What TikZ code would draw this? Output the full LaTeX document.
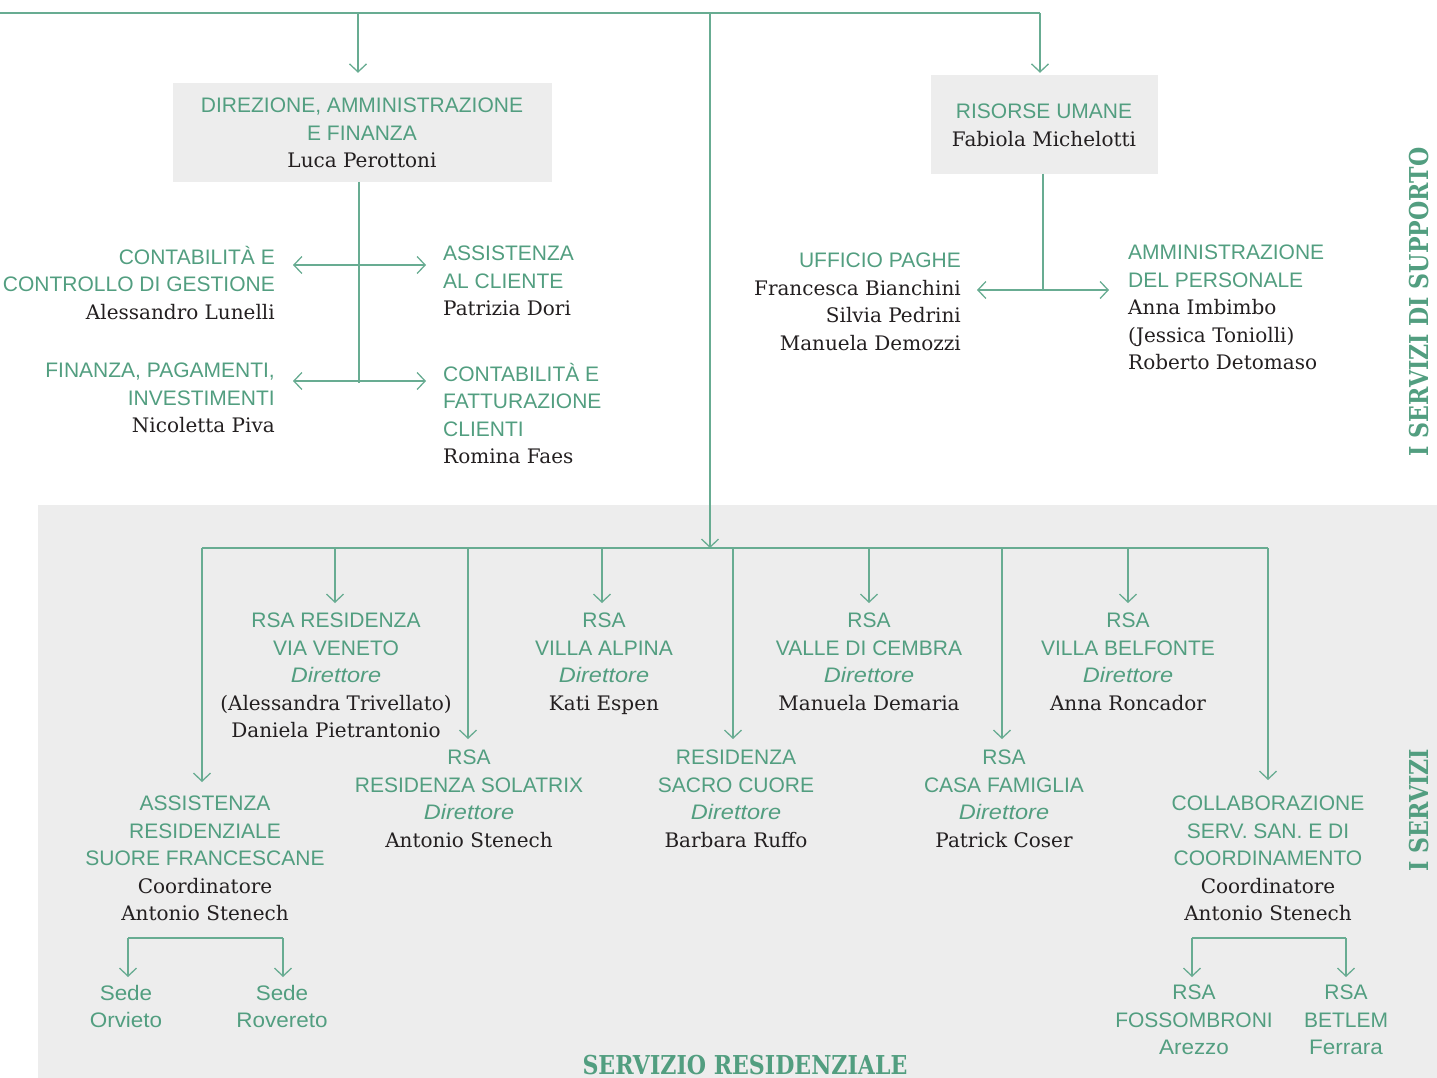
\documentclass[tikz,border=0pt]{standalone}
\usepackage{fontspec}
\setmainfont{DejaVu Serif}
\newfontfamily\gfont{Liberation Sans}
\newfontfamily\gwfont[FakeStretch=1.07]{Liberation Sans}
\newfontfamily\gifont[FakeStretch=1.12]{Liberation Sans Italic}
\newfontfamily\tfont[FakeStretch=0.85]{DejaVu Serif}
\usetikzlibrary{arrows.meta}
\definecolor{lineg}{RGB}{104,172,146}
\definecolor{textg}{RGB}{82,158,128}
\definecolor{ink}{RGB}{35,31,32}
\definecolor{bgg}{RGB}{237,237,237}
\newcommand\G[1]{{\fontsize{21}{27.5}\selectfont\gfont\color{textg}#1}}
\newcommand\GW[1]{{\fontsize{21}{27.5}\selectfont\gwfont\color{textg}#1}}
\newcommand\GI[1]{{\fontsize{21}{27.5}\selectfont\gifont\color{textg}#1}}
\newcommand\N[1]{{\fontsize{20}{27.5}\selectfont\color{ink}#1}}
\newcommand\Dir{\GI{Direttore}}
\tikzset{
  conn/.style={draw=lineg, line width=1.4pt},
  arr/.style={conn, -{Straight Barb[length=8pt,width=17pt,line width=1.3pt]}},
  darr/.style={conn, {Straight Barb[length=8pt,width=17pt,line width=1.3pt]}-{Straight Barb[length=8pt,width=17pt,line width=1.3pt]}},
  blk/.style={inner sep=0pt, align=center, anchor=north, yshift=-7pt, font=\fontsize{21}{27.5}\selectfont,
    execute at begin node={\rule{0pt}{22pt}}},
  blkr/.style={blk, align=right, anchor=north east},
  blkl/.style={blk, align=left, anchor=north west},
  gbox/.style={fill=bgg, draw=none, inner sep=0pt},
  ttl/.style={inner sep=0pt, text=textg, font=\fontsize{26}{30}\selectfont\tfont\bfseries},
}
\begin{document}
\begin{tikzpicture}[x=1pt,y=-1pt]
\useasboundingbox (0,0) rectangle (1437,1078);
% background of residential area
\fill[bgg] (38,505) rectangle (1437,1078);
% boxes
\node[gbox, minimum width=379pt, minimum height=99pt] (dirbox) at (362.5,132.5) {};
\node[gbox, minimum width=227pt, minimum height=99pt] (hrbox) at (1044.5,124.5) {};
\node[blk] (dir) at (362,91) {\G{DIREZIONE, AMMINISTRAZIONE}\\\G{E FINANZA}\\\N{Luca Perottoni}};
\node[blk] (hr) at (1044,97) {\G{RISORSE UMANE}\\\N{Fabiola Michelotti}};
% top bus
\coordinate (tl) at (0,13);
\coordinate (tdir) at (358,13);
\coordinate (tmid) at (710,13);
\coordinate (thr) at (1040,13);
\coordinate (bus) at (710,548);
\draw[conn] (tl) -- (thr);
\draw[arr, shorten >=10pt] (tdir) -- (tdir |- dirbox.north);
\draw[arr, shorten >=2pt] (thr) -- (thr |- hrbox.north);
\draw[arr] (tmid) -- (bus);
% direzione sub-units
\node[blkr] (ccg) at (275,239) {\G{CONTABILITÀ E}\\\G{CONTROLLO DI GESTIONE}\\\N{Alessandro Lunelli}};
\node[blkl] (acl) at (443,239) {\G{ASSISTENZA}\\\G{AL CLIENTE}\\\N{Patrizia Dori}};
\node[blkr] (fpi) at (275,356) {\G{FINANZA, PAGAMENTI,}\\\G{INVESTIMENTI}\\\N{Nicoletta Piva}};
\node[blkl] (cfc) at (443,356) {\G{CONTABILITÀ E}\\\G{FATTURAZIONE}\\\G{CLIENTI}\\\N{Romina Faes}};
\coordinate (dv1) at (359,182);
\coordinate (dv2) at (359,383);
\draw[conn] (dv1) -- (dv2);
\coordinate (a1l) at (293,265); \coordinate (a1r) at (426,265);
\coordinate (a2l) at (293,381); \coordinate (a2r) at (426,381);
\draw[darr] (a1l) -- (a1r);
\draw[darr] (a2l) -- (a2r);
% risorse umane sub-units
\node[blkr] (upg) at (961,246) {\G{UFFICIO PAGHE}\\\N{Francesca Bianchini}\\\N{Silvia Pedrini}\\\N{Manuela Demozzi}};
\node[blkl] (adp) at (1128,238) {\G{AMMINISTRAZIONE}\\\G{DEL PERSONALE}\\\N{Anna Imbimbo}\\\N{(Jessica Toniolli)}\\\N{Roberto Detomaso}};
\coordinate (hv1) at (1043,174);
\coordinate (hv2) at (1043,290);
\draw[conn] (hv1) -- (hv2);
\coordinate (a3l) at (977,290); \coordinate (a3r) at (1109,290);
\draw[darr] (a3l) -- (a3r);
% side titles
\node[ttl, rotate=90] (tsup) at (1419,302) {I SERVIZI DI SUPPORTO};
\node[ttl, rotate=90] (tserv) at (1419,810) {I SERVIZI};
\node[ttl, anchor=base] (tres) at (745,1074) {SERVIZIO RESIDENZIALE};
% residential bus
\coordinate (bl) at (202,548);
\coordinate (br) at (1268,548);
\draw[conn] (bl) -- (br);
% residential units
\node[blk] (vv) at (336,606) {\G{RSA RESIDENZA}\\\G{VIA VENETO}\\\Dir\\\N{(Alessandra Trivellato)}\\\N{Daniela Pietrantonio}};
\node[blk] (va) at (604,606) {\G{RSA}\\\G{VILLA ALPINA}\\\Dir\\\N{Kati Espen}};
\node[blk] (vc) at (869,606) {\G{RSA}\\\G{VALLE DI CEMBRA}\\\Dir\\\N{Manuela Demaria}};
\node[blk] (vb) at (1128,606) {\G{RSA}\\\G{VILLA BELFONTE}\\\Dir\\\N{Anna Roncador}};
\node[blk] (rs) at (469,743) {\G{RSA}\\\G{RESIDENZA SOLATRIX}\\\Dir\\\N{Antonio Stenech}};
\node[blk] (sc) at (736,743) {\G{RESIDENZA}\\\G{SACRO CUORE}\\\Dir\\\N{Barbara Ruffo}};
\node[blk] (cf) at (1004,743) {\G{RSA}\\\G{CASA FAMIGLIA}\\\Dir\\\N{Patrick Coser}};
\node[blk] (sf) at (205,789) {\G{ASSISTENZA}\\\G{RESIDENZIALE}\\\G{SUORE FRANCESCANE}\\\N{Coordinatore}\\\N{Antonio Stenech}};
\node[blk] (co) at (1268,789) {\G{COLLABORAZIONE}\\\G{SERV. SAN. E DI}\\\G{COORDINAMENTO}\\\N{Coordinatore}\\\N{Antonio Stenech}};
% branches from residential bus
\draw[arr] (bl) -- (202,782);
\draw[arr] (335,548) -- (335,603);
\draw[arr] (468,548) -- (468,739);
\draw[arr] (602,548) -- (602,603);
\draw[arr] (733,548) -- (733,739);
\draw[arr] (869,548) -- (869,603);
\draw[arr] (1002,548) -- (1002,739);
\draw[arr] (1128,548) -- (1128,603);
\draw[arr] (br) -- (1268,780);
% sedi
\node[blk] (orv) at (126,978) {\GW{Sede}\\\GW{Orvieto}};
\node[blk] (rov) at (282,978) {\GW{Sede}\\\GW{Rovereto}};
\node[blk] (fos) at (1194,978) {\G{RSA}\\\G{FOSSOMBRONI}\\\GW{Arezzo}};
\node[blk] (bet) at (1346,978) {\G{RSA}\\\G{BETLEM}\\\GW{Ferrara}};
\coordinate (s1) at (128,938); \coordinate (s2) at (283,938);
\draw[conn] (s1) -- (s2);
\draw[arr] (s1) -- (128,977);
\draw[arr] (s2) -- (283,977);
\coordinate (r1) at (1192,938); \coordinate (r2) at (1346,938);
\draw[conn] (r1) -- (r2);
\draw[arr] (r1) -- (1192,977);
\draw[arr] (r2) -- (1346,977);
\end{tikzpicture}
\end{document}
